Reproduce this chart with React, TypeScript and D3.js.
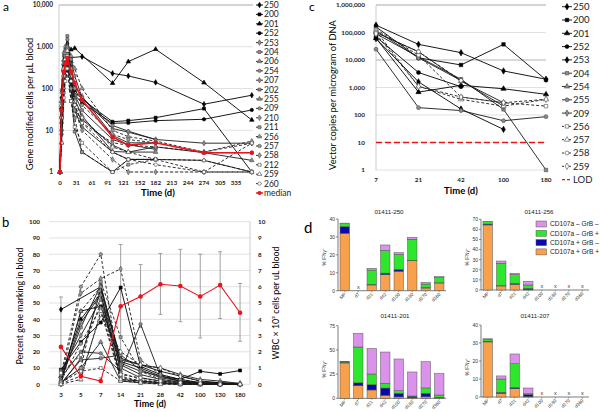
import React from "react";
import * as d3 from "d3";

// ---------------- Panel a data ----------------
const aDays = [0, 3, 7, 10, 14, 21, 28, 42, 100, 130, 182, 274, 365];
const aXTicks = [0, 31, 61, 91, 121, 152, 182, 213, 244, 274, 305, 335];
const aYTicks = [1, 10, 100, 1000, 10000];
const aNames = ["250", "200", "201", "252", "253", "204", "206", "254", "207", "202", "255", "209", "210", "211", "256", "257", "258", "212", "259", "260"];
const a250 = [1, 60, 350, 700, 800, 550, null, 580, 230, 200, 140, 42, 69];
const a200 = [1, 20, 160, 400, 650, 180, 90, 55, 16, 17, 20, 33, 1];
const a201 = [1, 35, 280, 500, 700, 850, 920, null, 134, 440, 870, 138, 17.6];
const a252 = [1, 15, 200, 450, 420, 140, 70, 45, 14.7, 15, 17, 18.3, 30.6];
const a253 = [1, 90, 600, 900, 1200, 320, 120, 60, 11, 9, 6, 4.9, 4.9];
const a204 = [1, 30, 300, 650, 1800, 400, 70, 30, 6, 4.5, 3.5, null, null];
const a206 = [1, 50, 480, 800, 1000, 220, 55, 22, 3.1, 3, 4, 2.9, 1.9];
const a254 = [1, 8, 100, 300, 700, 150, 30, 12, 3, 2, 2, 1.9, 1];
const a207 = [1, 80, 700, 1000, 850, 300, 110, 65, 7.5, 5, 5, null, null];
const a202 = [1, 20, 150, 380, 500, 90, 9.3, 3, 1, 2, 2, null, null];
const a255 = [1, 5, 50, 200, 400, 100, 30, 18, 4.4, 3, 3, null, null];
const a209 = [1, 40, 300, 800, 1500, 500, 200, 60, 13, 9.5, 6, null, null];
const a210 = [1, 20, 200, 500, 700, 200, 40, 15, 5, 4.4, 4, 3, 4.9];
const a211 = [1, 10, 80, 200, 300, 50, 20, 3, 1, 1.5, 2, null, null];
const a256 = [1, 50, 400, 700, 1000, 600, 300, 100, 10, 7, 5.5, 3, 5.5];
const a257 = [1, 30, 250, 600, 900, 300, 100, 40, 8, 6, 5, 2.9, 2.9];
const a258 = [1, 10, 100, 300, 500, 100, 30, 10, 2, 1, 1, 1, 1];
const a212 = [1, 5, 60, 150, 300, 50, 12, 5, 1, 2, 2, 1, 4.9];
const a259 = [1, 40, 300, 500, 800, 200, 50, 20, 4, 3, 2, 1.9, 1];
const a260 = [1, 20, 200, 400, 600, 150, 40, 15, 3, 2, 1.5, 1, 1];
const aMedian = [1, 30, 250, 400, 540, 250, 135, 53, 6.9, 4.4, 5, 2.9, 2.9];
const aSeries = [a250, a200, a201, a252, a253, a204, a206, a254, a207, a202, a255, a209, a210, a211, a256, a257, a258, a212, a259, a260];

// ---------------- Panel b data ----------------
const bDays = ["3", "5", "7", "14", "21", "28", "42", "100", "130", "180"];
const bLeftTicks = [0, 10, 20, 30, 40, 50, 60, 70, 80, 90, 100];
const bRightTicks = [0, 1, 2, 3, 4, 5, 6, 7, 8, 9, 10];
const b01 = [46, null, 60, 16, 12, 8, 5, 2, 1, 0.5];
const b02 = [9, 26, 38, 59.5, 11, 6, 3, 8, 6.4, 8.5];
const b03 = [5, 40, 56, 3, 2, 1, 0.5, 0, 0, 0];
const b04 = [2, 45, 48, 14, 10, 5, 3, 1, 1, 0];
const b05 = [0, 16, 58, 15, 12, 10, 6, 3, 2, 0.5];
const b06 = [3, 35, 61, 13, 8, 5, 2, 1, 0, 0];
const b07 = [1, 10, 26, 2, 1, 0.5, 0, 0, 0, 0];
const b08 = [4, 20, 19, 8, 37, 5, 2, 0.5, 0.5, 0];
const b09 = [8, 30, 52, 10, 4, 2, 1, 0.5, 0, 0];
const b10 = [0.5, 15, 16, 18, 9, 4, 2, 1, 0.5, 0];
const b11 = [2, 38, 55, 12, 6, 3, 1.5, 0.5, 0, 0];
const b12 = [6, 60, 80, 5, 2, 1, 0.5, 0, 0, 0];
const b13 = [3, 56, 65, 71, 15, 6, 3, 1, 0.5, 0];
const b14 = [1, 10, 63, 29, 8, 3, 1, 0.5, 0, 0];
const b15 = [0, 45, 60, 7, 3, 1, 0.5, 0, 0, 0];
const b16 = [2, 25, 47, 4, 2, 1, 0, 0, 0, 0];
const b17 = [0.5, 5, 43, 20, 12, 10, 5, 2, 0.5, 0];
const b18 = [1, 8, 10, 2, 1, 0.5, 0, 0, 0, 0];
const b19 = [0, 3, 45, 3, 1, 0, 0, 0, 0, 0];
const b20 = [7, 18, 50, 6, 4, 2, 1, 0.5, 0, 0];
const bSeries = [b01, b02, b03, b04, b05, b06, b07, b08, b09, b10, b11, b12, b13, b14, b15, b16, b17, b18, b19, b20];
const wbc = [2.3, 0.5, 0.2, 4.8, 5.4, 6.15, 6.05, 5.4, 6.1, 4.4];
const wbcLo = [0, 0.2, 0.1, 1.0, 3.5, 4.3, 3.85, 2.85, 4.05, 2.65];
const wbcHi = [5.37, 0.9, 0.4, 8.6, 7.37, 8.05, 8.3, 8.0, 8.15, 6.2];

// ---------------- Panel c data ----------------
const cDays = ["7", "21", "42", "100", "180"];
const cYTicks = [1, 10, 100, 1000, 10000, 100000, 1000000];
const cNames = ["250", "200", "201", "252", "253", "204", "254", "255", "209", "256", "257", "258", "259"];
const c250 = [185000, 37000, 18500, 4000, 2000];
const c200 = [160000, 12000, 6600, 37000, 1900];
const c201 = [62000, 680, 1200, 900, 565];
const c252 = [70000, 3500, 1070, null, null];
const c253 = [60000, 1600, 165, 30, null];
const c204 = [90000, 13000, 2000, 160, 1];
const c254 = [100000, 20000, 1700, 280, null];
const c255 = [24600, 185, 145, 62, 87];
const c209 = [116000, 12000, 1800, 210, null];
const c256 = [130000, 15000, 450, 280, 210];
const c257 = [116000, 1100, 370, 210, 370];
const c258 = [100000, 20000, 1800, null, null];
const c259 = [90000, 1100, 450, 280, 370];
const cSeries = [c250, c200, c201, c252, c253, c204, c254, c255, c209, c256, c257, c258, c259];
const cLOD = 10;

// ---------------- Panel d data ----------------
const dCats = ["MP", "d7", "d21", "d42", "d100", "d180", "d270", "d360"];
const dLegend = ["CD107a – GrB –", "CD107a – GrB +", "CD107a + GrB –", "CD107a + GrB +"];
// order: [CD107a+GrB+ (orange), CD107a+GrB- (navy), CD107a-GrB+ (green), CD107a-GrB- (violet)]
const d250pp = [32, null, 3.2, 8.9, 10.8, 16.7, 1.5, 4.3];
const d250pm = [3.8, null, 0.3, 0.9, 1.1, 0.2, 0.2, 0.1];
const d250mp = [1.6, null, 8.0, 12.7, 8.4, 11.8, 2.0, 2.9];
const d250mm = [0.3, null, 1.0, 3.0, 0.9, 1.1, 0.9, 0.6];
const d256pp = [64.4, 4, 5.6, 0.5, null, null, null, null];
const d256pm = [0.9, 0.3, 1.0, 1.1, null, null, null, null];
const d256mp = [2.3, 22.2, 8.6, 3.4, null, null, null, null];
const d256mm = [0.4, 2.2, 1.3, 3.6, null, null, null, null];
const d201pp = [36.5, 13, 8.6, 3.1, 1.4, 0.5, 1.5, 0.5];
const d201pm = [0.6, 3, 5.5, 7.5, 3.8, 1.6, 3.7, 0.5];
const d201mp = [0.5, 37, 11, 4.9, 2.7, 0.3, 5.5, 2.4];
const d201mm = [0.3, 14, 26.3, 32.3, 32.7, 24.8, 27.1, 22.1];
const d207pp = [30.6, 2, 4.6, 0.2, null, null, null, null];
const d207pm = [0.4, 0.6, 0.7, 1.3, null, null, null, null];
const d207mp = [1.2, 7.4, 13.2, 0.3, null, null, null, null];
const d207mm = [0.1, 1.7, 5.4, 3.2, null, null, null, null];

const FONT = "Lato, 'Open Sans', sans-serif";
const DFONT = "'Liberation Sans', Arial, sans-serif";
const segColors = ["#F7A04E", "#0A0AA8", "#2EE62E", "#DA92EA"];

const shapes = [d3.symbolDiamond, d3.symbolSquare, d3.symbolTriangle, d3.symbolCircle];

function Mk({ x, y, type, size, fill, stroke }: any) {
  const d = d3.symbol().type(type).size(size)() as string;
  return <path d={d} transform={`translate(${x},${y})`} fill={fill} stroke={stroke} strokeWidth={0.6} />;
}

function lineStyle(i: number, nSolidBlack: number, nGray: number, nDashGray: number) {
  const type = shapes[i % 4];
  if (i < nSolidBlack) return { type, fill: "#000", stroke: "#000", dash: undefined, line: "#000" };
  if (i < nSolidBlack + nGray) return { type, fill: "#8c8c8c", stroke: "#4a4a4a", dash: undefined, line: "#1a1a1a" };
  if (i < nSolidBlack + nGray + nDashGray) return { type, fill: "#9a9a9a", stroke: "#4a4a4a", dash: "3,2", line: "#1a1a1a" };
  return { type, fill: "#fff", stroke: "#4a4a4a", dash: "3,2", line: "#1a1a1a" };
}

function PanelA() {
  const x = d3.scaleLinear().domain([0, 365]).range([60, 251.8]);
  const y = d3.scaleLog().domain([1, 10000]).range([172, 5]);
  const line = d3.line<any>().x((d) => x(d[0])).y((d) => y(d[1]));
  const pts = (vals: (number | null)[]) => aDays.map((t, k) => [t, vals[k]]).filter((p) => p[1] != null);
  const fmt = d3.format(",");
  return (
    <g>
      <text x={3} y={11} fontSize={12} fontFamily={FONT}>a</text>
      {aYTicks.map((t) => (
        <g key={t}>
          <line x1={59} x2={253} y1={y(t)} y2={y(t)} stroke={t === 10000 ? "#d4d4d4" : "#d9d9d9"} strokeWidth={t === 10000 ? 2 : 0.8} />
          <text x={53} y={y(t) + 2.3} fontSize={6.5} fontWeight={700} textAnchor="end" fontFamily={FONT} fill="#222">{fmt(t)}</text>
        </g>
      ))}
      <line x1={59} x2={59} y1={5} y2={172} stroke="#bfbfbf" strokeWidth={0.8} />
      {aXTicks.map((t) => (
        <text key={t} x={x(t)} y={185} fontSize={6.2} fontWeight={700} textAnchor="middle" fontFamily={FONT} fill="#222">{t}</text>
      ))}
      <text x={158} y={196} fontSize={9.5} fontWeight={700} textAnchor="middle" fontFamily={FONT}>Time (d)</text>
      <text transform={`translate(33,104) rotate(-90)`} fontSize={9.2} textAnchor="middle" fontFamily={FONT}>Gene modified cells per µL blood</text>
      {aSeries.map((s, i) => {
        const st = lineStyle(i, 4, 8, 5);
        const p = pts(s);
        return (
          <g key={i}>
            <path d={line(p) as string} fill="none" stroke={st.line} strokeWidth={0.9} strokeDasharray={st.dash} />
            {p.map((q, k) => <Mk key={k} x={x(q[0])} y={y(q[1])} type={st.type} size={9} fill={st.fill} stroke={st.stroke} />)}
          </g>
        );
      })}
      <path d={line(pts(aMedian)) as string} fill="none" stroke="#e8141c" strokeWidth={1.6} />
      {pts(aMedian).map((q, k) => <circle key={k} cx={x(q[0])} cy={y(q[1])} r={2.2} fill="#e8141c" />)}
      {aNames.map((n, i) => {
        const st = lineStyle(i, 4, 8, 5);
        const ly = 5 + i * 9.4;
        return (
          <g key={n}>
            <line x1={256} x2={263} y1={ly} y2={ly} stroke={st.line} strokeWidth={0.9} strokeDasharray={st.dash ? "2,1.5" : undefined} />
            <Mk x={259.5} y={ly} type={st.type} size={9} fill={st.fill} stroke={st.stroke} />
            <text x={264} y={ly + 3} fontSize={8.5} fontFamily={FONT} fill="#222">{n}</text>
          </g>
        );
      })}
      <g>
        <line x1={256} x2={263} y1={5 + 20 * 9.4} y2={5 + 20 * 9.4} stroke="#e8141c" strokeWidth={1.4} />
        <circle cx={259.5} cy={5 + 20 * 9.4} r={2} fill="#e8141c" />
        <text x={264} y={5 + 20 * 9.4 + 3} fontSize={8.5} fontFamily={FONT} fill="#222">median</text>
      </g>
    </g>
  );
}

function PanelB() {
  const x = d3.scaleBand().domain(bDays).range([51, 250]);
  const cx = (d: string) => (x(d) as number) + x.bandwidth() / 2;
  const yL = d3.scaleLinear().domain([0, 100]).range([384.3, 221.7]);
  const yR = d3.scaleLinear().domain([0, 10]).range([384.3, 221.7]);
  const line = d3.line<any>().x((d) => cx(d[0])).y((d) => d[1]);
  return (
    <g>
      <text x={2} y={227} fontSize={13} fontFamily={FONT}>b</text>
      {bLeftTicks.map((t) => (
        <g key={t}>
          <line x1={49} x2={250} y1={yL(t)} y2={yL(t)} stroke="#d9d9d9" strokeWidth={0.8} />
          <text x={40} y={yL(t) + 2.3} fontSize={6.3} fontWeight={700} textAnchor="end" fontFamily={FONT} fill="#222">{t}</text>
        </g>
      ))}
      {bRightTicks.map((t) => (
        <text key={t} x={258} y={yR(t) + 2.3} fontSize={6.3} fontWeight={700} textAnchor="start" fontFamily={FONT} fill="#222">{t}</text>
      ))}
      <line x1={250} x2={250} y1={221.7} y2={384.3} stroke="#bfbfbf" strokeWidth={0.8} />
      {bDays.map((d) => (
        <text key={d} x={cx(d)} y={397} fontSize={6.2} fontWeight={700} textAnchor="middle" fontFamily={FONT} fill="#222">{d}</text>
      ))}
      <text x={150} y={407} fontSize={9} fontWeight={700} textAnchor="middle" fontFamily={FONT}>Time (d)</text>
      <text transform={`translate(23,306) rotate(-90)`} fontSize={8.8} textAnchor="middle" fontFamily={FONT}>Percent gene marking in blood</text>
      <text transform={`translate(279,303) rotate(-90)`} fontSize={8.8} textAnchor="middle" fontFamily={FONT}>WBC × 10³ cells per uL blood</text>
      {bDays.map((d, k) => (
        <g key={d}>
          <line x1={cx(d)} x2={cx(d)} y1={yR(wbcLo[k])} y2={yR(wbcHi[k])} stroke="#8a8a8a" strokeWidth={0.8} />
          <line x1={cx(d) - 2} x2={cx(d) + 2} y1={yR(wbcHi[k])} y2={yR(wbcHi[k])} stroke="#8a8a8a" strokeWidth={0.8} />
          <line x1={cx(d) - 2} x2={cx(d) + 2} y1={yR(wbcLo[k])} y2={yR(wbcLo[k])} stroke="#8a8a8a" strokeWidth={0.8} />
        </g>
      ))}
      {bSeries.map((s, i) => {
        const st = lineStyle(i, 4, 7, 5);
        const p = bDays.map((d, k) => [d, s[k]]).filter((q) => q[1] != null).map((q) => [q[0], yL(q[1] as number)]);
        return (
          <g key={i}>
            <path d={line(p) as string} fill="none" stroke={st.line} strokeWidth={0.9} strokeDasharray={st.dash} />
            {p.map((q, k) => <Mk key={k} x={cx(q[0] as string)} y={q[1]} type={st.type} size={9} fill={st.fill} stroke={st.stroke} />)}
          </g>
        );
      })}
      {(() => {
        const p = bDays.map((d, k) => [d, yR(wbc[k])]);
        return (
          <g>
            <path d={line(p) as string} fill="none" stroke="#e8141c" strokeWidth={1.1} />
            {p.map((q, k) => <circle key={k} cx={cx(q[0] as string)} cy={q[1] as number} r={2.3} fill="#e8141c" />)}
          </g>
        );
      })()}
    </g>
  );
}

function PanelC() {
  const x = d3.scalePoint().domain(cDays).range([376, 546]);
  const y = d3.scaleLog().domain([1, 1000000]).range([170, 5]);
  const line = d3.line<any>().x((d) => x(d[0]) as number).y((d) => y(d[1]));
  const fmt = d3.format(",");
  const styleC = (i: number) => {
    const type = shapes[i % 4];
    if (i < 5) return { type, fill: "#000", stroke: "#000", dash: undefined, line: "#000" };
    if (i < 9) return { type, fill: "#8c8c8c", stroke: "#4a4a4a", dash: undefined, line: "#1a1a1a" };
    return { type, fill: "#fff", stroke: "#4a4a4a", dash: "3,2", line: "#1a1a1a" };
  };
  return (
    <g>
      <text x={309} y={11} fontSize={12} fontFamily={FONT}>c</text>
      {cYTicks.map((t) => (
        <g key={t}>
          <line x1={376} x2={546} y1={y(t)} y2={y(t)} stroke={t === 1000000 ? "#d4d4d4" : "#d9d9d9"} strokeWidth={t === 1000000 || t === 10000 ? 1.8 : 0.8} />
          <text x={365} y={y(t) + 2.3} fontSize={6.4} fontWeight={700} textAnchor="end" fontFamily={FONT} fill="#222">{fmt(t)}</text>
        </g>
      ))}
      <line x1={376} x2={376} y1={5} y2={170} stroke="#bfbfbf" strokeWidth={0.8} />
      {cDays.map((d) => (
        <text key={d} x={x(d) as number} y={181.5} fontSize={6.3} fontWeight={700} textAnchor="middle" fontFamily={FONT} fill="#222">{d}</text>
      ))}
      <text x={461} y={194} fontSize={9.5} fontWeight={700} textAnchor="middle" fontFamily={FONT}>Time (d)</text>
      <text transform={`translate(336,95) rotate(-90)`} fontSize={9.3} textAnchor="middle" fontFamily={FONT}>Vector copies per microgram of DNA</text>
      <line x1={376} x2={546} y1={y(cLOD)} y2={y(cLOD)} stroke="#e8141c" strokeWidth={1.4} strokeDasharray="6,3" />
      {cSeries.map((s, i) => {
        const st = styleC(i);
        const p = cDays.map((d, k) => [d, s[k]]).filter((q) => q[1] != null);
        return (
          <g key={i}>
            <path d={line(p) as string} fill="none" stroke={st.line} strokeWidth={0.9} strokeDasharray={st.dash} />
            {p.map((q, k) => <Mk key={k} x={x(q[0] as string) as number} y={y(q[1] as number)} type={st.type} size={12} fill={st.fill} stroke={st.stroke} />)}
          </g>
        );
      })}
      {cNames.map((n, i) => {
        const st = styleC(i);
        const ly = 6.7 + i * 13.3;
        return (
          <g key={n}>
            <line x1={562} x2={572} y1={ly} y2={ly} stroke={st.line} strokeWidth={0.9} strokeDasharray={st.dash ? "2,1.5" : undefined} />
            <Mk x={567} y={ly} type={st.type} size={12} fill={st.fill} stroke={st.stroke} />
            <text x={573} y={ly + 3.4} fontSize={9.5} fontFamily={FONT} fill="#222">{n}</text>
          </g>
        );
      })}
      <g>
        <line x1={562} x2={572} y1={6.7 + 13 * 13.3} y2={6.7 + 13 * 13.3} stroke="#e8141c" strokeWidth={1.3} strokeDasharray="3,2" />
        <text x={573} y={6.7 + 13 * 13.3 + 3.4} fontSize={9.5} fontFamily={FONT} fill="#222">LOD</text>
      </g>
    </g>
  );
}

function BarChart({ title, x0, x1, y0, yTop, max, ticks, segs, titleX, titleY, labelX, labelY }: any) {
  const x = d3.scaleBand().domain(dCats).range([x0, x1]).paddingInner(0.3).paddingOuter(0.15);
  const y = d3.scaleLinear().domain([0, max]).range([y0, yTop]);
  return (
    <g fontFamily={DFONT}>
      <text x={titleX} y={titleY} fontSize={6.2} textAnchor="middle" fill="#222">{title}</text>
      <line x1={x0} x2={x0} y1={y0} y2={yTop} stroke="#444" strokeWidth={0.7} />
      <line x1={x0} x2={x1} y1={y0} y2={y0} stroke="#444" strokeWidth={0.7} />
      {ticks.map((t: number) => (
        <g key={t}>
          <line x1={x0 - 2} x2={x0} y1={y(t)} y2={y(t)} stroke="#444" strokeWidth={0.6} />
          <text x={x0 - 3} y={y(t) + 1.8} fontSize={5} textAnchor="end" fill="#333">{t}</text>
        </g>
      ))}
      <text transform={`translate(${labelX},${labelY}) rotate(-90)`} fontSize={4.8} textAnchor="middle" fill="#333">% IFNγ⁺</text>
      {dCats.map((c, k) => {
        const bx = x(c) as number;
        const bw = x.bandwidth();
        const cxp = bx + bw / 2;
        const lab = (
          <text transform={`translate(${cxp + 1.5},${y0 + 4}) rotate(-45)`} fontSize={4.6} textAnchor="end" fill="#333">{c}</text>
        );
        const tick = <line x1={cxp} x2={cxp} y1={y0} y2={y0 + 1.5} stroke="#444" strokeWidth={0.5} />;
        if (segs[0][k] == null) {
          return (
            <g key={c}>
              {tick}
              {lab}
              <text x={cxp} y={y0 - 2} fontSize={5.5} textAnchor="middle" fill="#333">x</text>
            </g>
          );
        }
        let acc = 0;
        return (
          <g key={c}>
            {tick}
            {segs.map((s: number[], j: number) => {
              const v = s[k];
              const r = <rect key={j} x={bx} width={bw} y={y(acc + v)} height={y(acc) - y(acc + v)} fill={segColors[j]} stroke="#555" strokeWidth={0.5} />;
              acc += v;
              return r;
            })}
            {lab}
          </g>
        );
      })}
    </g>
  );
}

function PanelD() {
  return (
    <g>
      <text x={304} y={233} fontSize={15} fontFamily={FONT}>d</text>
      <BarChart title="01411-250" x0={338} x1={446} y0={290.7} yTop={219} max={40} ticks={[0, 10, 20, 30, 40]}
        segs={[d250pp, d250pm, d250mp, d250mm]} titleX={389} titleY={213.5} labelX={326} labelY={257} />
      <BarChart title="01411-256" x0={481} x1={589} y0={290} yTop={219.3} max={70} ticks={[0, 10, 20, 30, 40, 50, 60, 70]}
        segs={[d256pp, d256pm, d256mp, d256mm]} titleX={539} titleY={213.5} labelX={469} labelY={257} />
      <BarChart title="01411-201" x0={338} x1={446} y0={398.3} yTop={325.7} max={75} ticks={[0, 25, 50, 75]}
        segs={[d201pp, d201pm, d201mp, d201mm]} titleX={395} titleY={318} labelX={326} labelY={369} />
      <BarChart title="01411-207" x0={481} x1={589} y0={397} yTop={325} max={40} ticks={[0, 10, 20, 30, 40]}
        segs={[d207pp, d207pm, d207mp, d207mm]} titleX={535} titleY={318} labelX={469} labelY={367} />
      {dLegend.map((n, i) => {
        const ly = 224 + i * 9.3;
        const colorIdx = 3 - i;
        return (
          <g key={n} fontFamily={DFONT}>
            <rect x={536} y={ly - 3} width={10.5} height={6} fill={segColors[colorIdx]} stroke="#555" strokeWidth={0.5} />
            <text x={550} y={ly + 2.3} fontSize={6.6} fill="#222">{n}</text>
          </g>
        );
      })}
    </g>
  );
}

export default function App() {
  return (
    <svg width={600} height={412} viewBox="0 0 600 412" style={{ display: "block", position: "absolute", left: 0, top: 0, background: "#fff" }}>
      <rect width={600} height={412} fill="#fff" />
      <PanelA />
      <PanelB />
      <PanelC />
      <PanelD />
    </svg>
  );
}
